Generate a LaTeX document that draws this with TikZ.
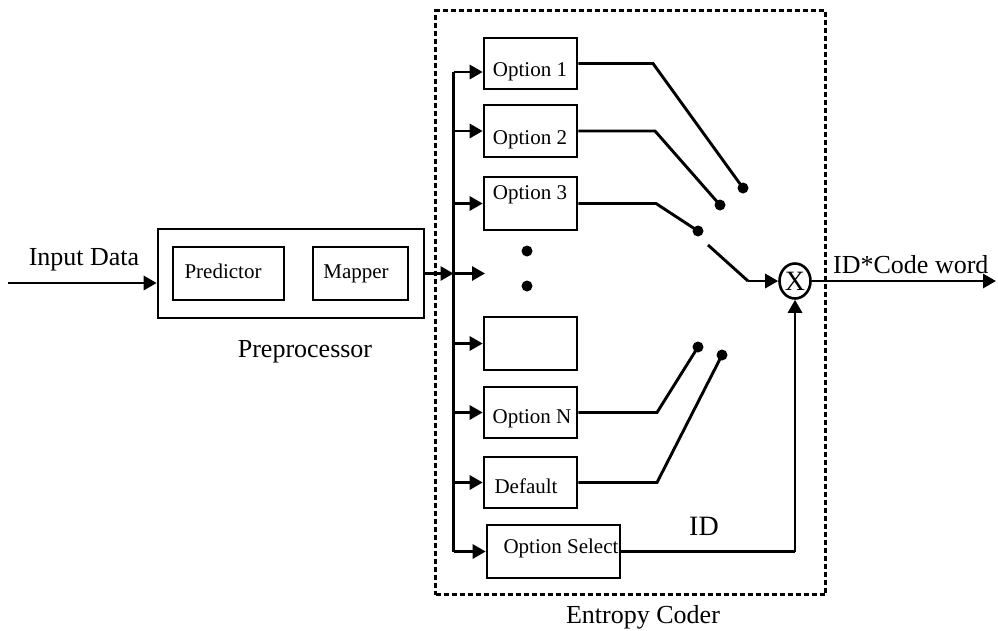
\documentclass[tikz,border=0pt]{standalone}
\usepackage{fontspec}
\setmainfont{Liberation Serif}
\usetikzlibrary{arrows.meta,shapes.geometric}
\begin{document}
\begin{tikzpicture}[x=1pt,y=-1pt,
  box/.style={draw,line width=2.6pt,inner sep=0pt},
  small/.style={font=\fontsize{21}{24}\selectfont,inner sep=0pt},
  big/.style={font=\fontsize{26}{30}\selectfont,inner sep=0pt},
  wire/.style={line width=2.9pt},
  arr/.style={-{Triangle[length=13pt,width=14pt]}},
  dot/.style={circle,fill,inner sep=0pt,minimum size=11pt},
  coder/.style={draw,dash pattern=on 5pt off 3pt,line width=2.8pt,inner sep=0pt}]
\useasboundingbox (0,0) rectangle (998,630);

% ---------- preprocessor ----------
\node[box,minimum width=266pt,minimum height=89pt] (pre) at (291,273.5) {};
\node[box,minimum width=111pt,minimum height=53pt] (pred) at (228.5,273.5) {};
\node[box,minimum width=95pt,minimum height=53pt] (map) at (360.5,273.5) {};
\node[small,anchor=base] (tpred) at (223,278) {Predictor};
\node[small,anchor=base] (tmap) at (356,278) {Mapper};
\node[big,anchor=base] (tpre) at (305,357) {Preprocessor};

\coordinate (in) at (8,283);
\node[big,anchor=base] (tin) at (84,265) {Input Data};
\draw[wire,arr] (in) -- (pre.west |- in);

% ---------- entropy coder ----------
\node[coder,minimum width=390pt,minimum height=584pt] (ec) at (630.5,302.5) {};
\node[big,anchor=base] (tec) at (643,623) {Entropy Coder};

\node[box,minimum width=93pt,minimum height=51pt] (o1) at (530.5,63.5) {};
\node[box,minimum width=93pt,minimum height=52pt] (o2) at (530.5,131) {};
\node[box,minimum width=93pt,minimum height=53pt] (o3) at (530.5,203.5) {};
\node[box,minimum width=93pt,minimum height=53pt] (ob) at (530.5,343.5) {};
\node[box,minimum width=93pt,minimum height=51pt] (oN) at (530.5,412.5) {};
\node[box,minimum width=93pt,minimum height=51pt] (od) at (530.5,482.5) {};
\node[box,minimum width=133pt,minimum height=53pt] (os) at (553.5,551.5) {};

\node[small,anchor=base] (t1) at (530,76) {Option 1};
\node[small,anchor=base] (t2) at (530,144) {Option 2};
\node[small,anchor=base] (t3) at (530,199) {Option 3};
\node[small,anchor=base] (tN) at (532,423) {Option N};
\node[small,anchor=base] (tD) at (526,493) {Default};
\node[small,anchor=base] (tS) at (561,553) {Option Select};

\node[dot] (v1) at (527,251) {};
\node[dot] (v2) at (527,286) {};

% distribution bus
\coordinate (bus) at (453.5,300);
\coordinate (a1) at ([yshift=-8.5pt]o1.west);
\coordinate (dl) at (485,273.5);
\draw[wire] (bus |- a1) -- (bus |- os.west);
\draw[wire,arr] (pre.east) -- (bus |- pre.east);
\draw[wire,arr] (bus |- a1) -- (a1);
\draw[wire,arr] (bus |- o2.west) -- (o2.west);
\draw[wire,arr] (bus |- o3.west) -- (o3.west);
\draw[wire,arr] (bus |- dl) -- (dl);
\draw[wire,arr] (bus |- ob.west) -- (ob.west);
\draw[wire,arr] (bus |- oN.west) -- (oN.west);
\draw[wire,arr] (bus |- od.west) -- (od.west);
\draw[wire,arr] (bus |- os.west) -- (os.west);

% selector switch contacts
\node[dot] (d1) at (743,188) {};
\node[dot] (d2) at (720,205) {};
\node[dot] (d3) at (698,231) {};
\node[dot] (dN) at (698,347) {};
\node[dot] (dD) at (722,355) {};
\coordinate (k1) at (653,63.5);
\coordinate (k2) at (655,131);
\coordinate (k3) at (656,203.5);
\coordinate (kN) at (657,412.5);
\coordinate (kD) at (657,482.5);
\draw[wire] (o1.east) -- (k1) -- (d1.center);
\draw[wire] (o2.east) -- (k2) -- (d2.center);
\draw[wire] (o3.east) -- (k3) -- (d3.center);
\draw[wire] (oN.east) -- (kN) -- (dN.center);
\draw[wire] (od.east) -- (kD) -- (dD.center);

% switch pole and multiplier
\node[draw,ellipse,line width=2.6pt,minimum width=31pt,minimum height=35pt,font=\fontsize{28}{32}\selectfont,inner sep=0pt] (mx) at (795,281) {X};
\coordinate (p0) at (708,245);
\coordinate (p1) at (748,281);
\draw[wire] (p0) -- (p1);
\draw[wire,arr] (p1) -- (mx.west);

\coordinate (c) at (mx.south |- os.east);
\draw[wire] (os.east) -- (c);
\draw[wire,arr] (c) -- (mx.south);
\node[font=\fontsize{28}{32}\selectfont,inner sep=0pt,anchor=base] (tid) at (704,535) {ID};

\coordinate (out) at (996,281);
\draw[wire,arr] (mx.east) -- (out);
\node[big,anchor=base west] (tout) at (833,273) {ID*Code word};
\end{tikzpicture}
\end{document}
